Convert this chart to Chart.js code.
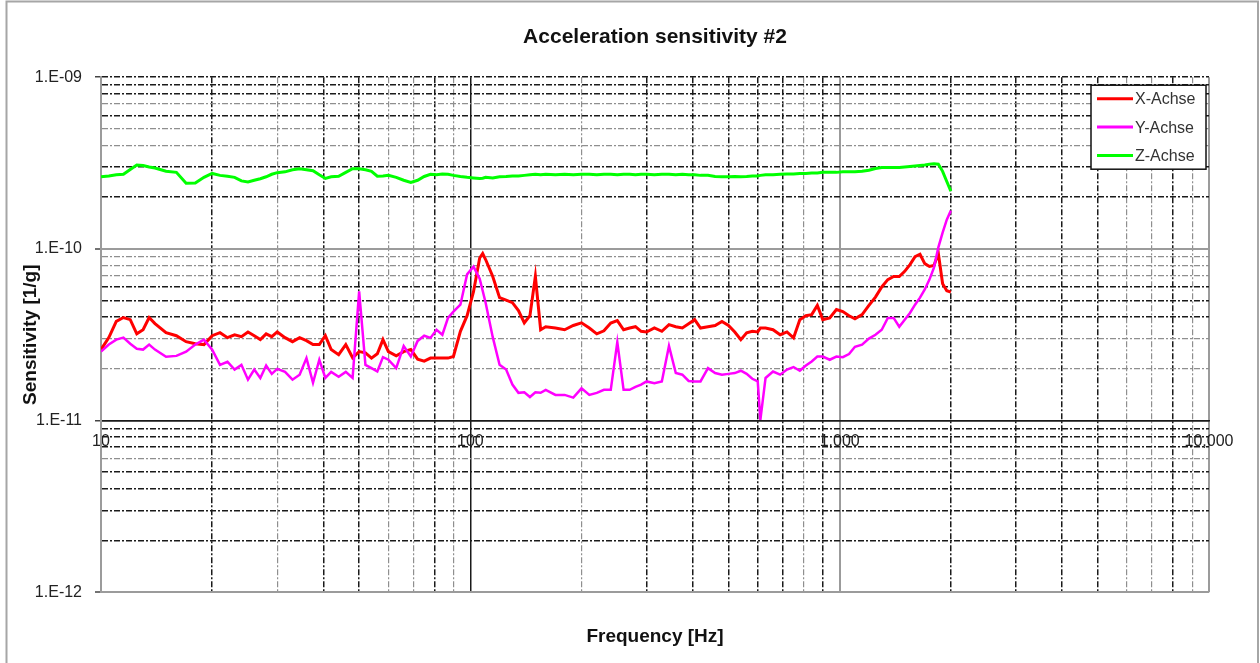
<!DOCTYPE html>
<html>
<head>
<meta charset="utf-8">
<title>Acceleration sensitivity #2</title>
<script src="https://cdn.jsdelivr.net/npm/chart.js@4.4.1/dist/chart.umd.min.js"></script>
<style>
  html, body { margin: 0; padding: 0; background: #fff; }
  #wrap { width: 1260px; height: 663px; position: relative; }
</style>
</head>
<body>
<div id="wrap"><canvas id="sensChart"></canvas></div>
<script>
// frequencies of the measurement points [Hz]
const freqs = [
  10, 10.5, 11, 11.5, 12, 12.5, 13, 13.5, 14, 15,
  16, 17, 18, 19, 20, 21, 22, 23, 24, 25,
  26, 27, 28, 29, 30, 31.5, 33, 34.5, 36, 37.5,
  39, 40.5, 42, 44, 46, 48, 50, 52, 54, 56,
  58, 60, 63, 66, 69, 72, 75, 78, 81, 84,
  87, 90, 94, 98, 102, 106, 108, 110, 115, 120,
  125, 130, 135, 140, 145, 150, 155, 160, 170, 180,
  190, 200, 210, 220, 230, 240, 250, 260, 270, 280,
  290, 300, 315, 330, 345, 360, 375, 390, 405, 420,
  440, 460, 480, 500, 520, 540, 560, 580, 600, 610,
  630, 660, 690, 720, 750, 780, 810, 840, 870, 900,
  940, 980, 1020, 1060, 1100, 1150, 1200, 1250, 1300, 1350,
  1400, 1450, 1500, 1550, 1600, 1650, 1700, 1750, 1800, 1850,
  1900, 1950, 2000
];

// sensitivity [1/g]
const xAchse = [
  2.59e-11, 3.04e-11, 3.78e-11, 3.98e-11, 3.87e-11, 3.20e-11, 3.38e-11, 3.98e-11, 3.67e-11, 3.25e-11,
  3.12e-11, 2.88e-11, 2.80e-11, 2.77e-11, 3.12e-11, 3.25e-11, 3.04e-11, 3.16e-11, 3.08e-11, 3.28e-11,
  3.12e-11, 2.96e-11, 3.20e-11, 3.08e-11, 3.28e-11, 3.04e-11, 2.88e-11, 3.04e-11, 2.92e-11, 2.77e-11,
  2.77e-11, 3.12e-11, 2.59e-11, 2.42e-11, 2.77e-11, 2.32e-11, 2.52e-11, 2.48e-11, 2.31e-11, 2.45e-11,
  2.96e-11, 2.52e-11, 2.38e-11, 2.52e-11, 2.59e-11, 2.28e-11, 2.22e-11, 2.31e-11, 2.31e-11, 2.31e-11,
  2.31e-11, 2.36e-11, 3.31e-11, 4.08e-11, 5.63e-11, 8.85e-11, 9.40e-11, 8.67e-11, 6.90e-11, 5.20e-11,
  5.03e-11, 4.86e-11, 4.37e-11, 3.70e-11, 4.08e-11, 6.92e-11, 3.38e-11, 3.52e-11, 3.46e-11, 3.38e-11,
  3.58e-11, 3.71e-11, 3.46e-11, 3.20e-11, 3.33e-11, 3.70e-11, 3.82e-11, 3.38e-11, 3.46e-11, 3.52e-11,
  3.31e-11, 3.28e-11, 3.46e-11, 3.31e-11, 3.62e-11, 3.52e-11, 3.46e-11, 3.66e-11, 3.87e-11, 3.46e-11,
  3.52e-11, 3.58e-11, 3.78e-11, 3.58e-11, 3.28e-11, 2.96e-11, 3.24e-11, 3.31e-11, 3.28e-11, 3.46e-11,
  3.46e-11, 3.38e-11, 3.16e-11, 3.28e-11, 3.03e-11, 3.87e-11, 4.08e-11, 4.14e-11, 4.68e-11, 3.87e-11,
  3.96e-11, 4.43e-11, 4.31e-11, 4.08e-11, 3.91e-11, 4.14e-11, 4.68e-11, 5.24e-11, 6.00e-11, 6.62e-11,
  6.90e-11, 6.90e-11, 7.40e-11, 8.10e-11, 9.00e-11, 9.30e-11, 8.20e-11, 7.90e-11, 8.00e-11, 9.40e-11,
  6.26e-11, 5.70e-11, 5.60e-11
];

const yAchse = [
  2.52e-11, 2.77e-11, 2.96e-11, 3.04e-11, 2.80e-11, 2.62e-11, 2.59e-11, 2.77e-11, 2.59e-11, 2.35e-11,
  2.38e-11, 2.52e-11, 2.77e-11, 2.96e-11, 2.59e-11, 2.11e-11, 2.20e-11, 1.98e-11, 2.11e-11, 1.73e-11,
  1.98e-11, 1.77e-11, 2.09e-11, 1.87e-11, 2.00e-11, 1.92e-11, 1.73e-11, 1.85e-11, 2.31e-11, 1.66e-11,
  2.26e-11, 1.77e-11, 1.92e-11, 1.80e-11, 1.92e-11, 1.77e-11, 5.66e-11, 2.11e-11, 2.02e-11, 1.93e-11,
  2.34e-11, 2.26e-11, 2.02e-11, 2.72e-11, 2.36e-11, 2.91e-11, 3.12e-11, 3.03e-11, 3.38e-11, 3.16e-11,
  3.96e-11, 4.31e-11, 4.73e-11, 7.10e-11, 7.88e-11, 6.70e-11, 5.70e-11, 4.86e-11, 3.06e-11, 2.11e-11,
  1.98e-11, 1.62e-11, 1.45e-11, 1.46e-11, 1.37e-11, 1.46e-11, 1.45e-11, 1.51e-11, 1.41e-11, 1.41e-11,
  1.36e-11, 1.54e-11, 1.41e-11, 1.45e-11, 1.51e-11, 1.51e-11, 2.86e-11, 1.51e-11, 1.51e-11, 1.57e-11,
  1.62e-11, 1.69e-11, 1.65e-11, 1.69e-11, 2.72e-11, 1.89e-11, 1.85e-11, 1.70e-11, 1.69e-11, 1.69e-11,
  2.02e-11, 1.89e-11, 1.85e-11, 1.87e-11, 1.89e-11, 1.95e-11, 1.87e-11, 1.75e-11, 1.69e-11, 1.01e-11,
  1.77e-11, 1.93e-11, 1.85e-11, 1.98e-11, 2.05e-11, 1.95e-11, 2.09e-11, 2.21e-11, 2.36e-11, 2.36e-11,
  2.26e-11, 2.36e-11, 2.34e-11, 2.44e-11, 2.69e-11, 2.77e-11, 3.00e-11, 3.16e-11, 3.38e-11, 3.96e-11,
  3.96e-11, 3.52e-11, 3.87e-11, 4.23e-11, 4.73e-11, 5.20e-11, 5.80e-11, 6.62e-11, 7.78e-11, 1.02e-10,
  1.245e-10, 1.48e-10, 1.67e-10
];

const zAchse = [
  2.63e-10, 2.66e-10, 2.70e-10, 2.72e-10, 2.90e-10, 3.08e-10, 3.06e-10, 3.00e-10, 2.96e-10, 2.83e-10,
  2.79e-10, 2.41e-10, 2.42e-10, 2.61e-10, 2.75e-10, 2.68e-10, 2.65e-10, 2.61e-10, 2.49e-10, 2.45e-10,
  2.51e-10, 2.56e-10, 2.63e-10, 2.72e-10, 2.78e-10, 2.81e-10, 2.89e-10, 2.93e-10, 2.89e-10, 2.85e-10,
  2.70e-10, 2.57e-10, 2.63e-10, 2.65e-10, 2.79e-10, 2.93e-10, 2.93e-10, 2.89e-10, 2.83e-10, 2.65e-10,
  2.66e-10, 2.68e-10, 2.61e-10, 2.51e-10, 2.44e-10, 2.51e-10, 2.64e-10, 2.72e-10, 2.70e-10, 2.73e-10,
  2.72e-10, 2.68e-10, 2.64e-10, 2.61e-10, 2.59e-10, 2.57e-10, 2.58e-10, 2.61e-10, 2.59e-10, 2.63e-10,
  2.64e-10, 2.66e-10, 2.66e-10, 2.68e-10, 2.70e-10, 2.72e-10, 2.70e-10, 2.72e-10, 2.70e-10, 2.72e-10,
  2.70e-10, 2.72e-10, 2.72e-10, 2.70e-10, 2.72e-10, 2.72e-10, 2.70e-10, 2.72e-10, 2.72e-10, 2.70e-10,
  2.72e-10, 2.72e-10, 2.70e-10, 2.72e-10, 2.72e-10, 2.70e-10, 2.72e-10, 2.70e-10, 2.70e-10, 2.68e-10,
  2.68e-10, 2.64e-10, 2.63e-10, 2.63e-10, 2.64e-10, 2.63e-10, 2.64e-10, 2.66e-10, 2.66e-10, 2.68e-10,
  2.70e-10, 2.70e-10, 2.72e-10, 2.73e-10, 2.73e-10, 2.75e-10, 2.75e-10, 2.77e-10, 2.77e-10, 2.79e-10,
  2.79e-10, 2.79e-10, 2.81e-10, 2.81e-10, 2.81e-10, 2.83e-10, 2.87e-10, 2.94e-10, 2.98e-10, 2.98e-10,
  2.98e-10, 2.98e-10, 3.00e-10, 3.02e-10, 3.04e-10, 3.06e-10, 3.08e-10, 3.11e-10, 3.13e-10, 3.11e-10,
  2.83e-10, 2.47e-10, 2.17e-10
];

// gridlines (1, 2 ... 9 per decade)
const xGridValues = [
  10, 20, 30, 40, 50, 60, 70, 80, 90,
  100, 200, 300, 400, 500, 600, 700, 800, 900,
  1000, 2000, 3000, 4000, 5000, 6000, 7000, 8000, 9000,
  10000
];
const yGridValues = [
  1e-12, 2e-12, 3e-12, 4e-12, 5e-12, 6e-12, 7e-12, 8e-12, 9e-12,
  1e-11, 2e-11, 3e-11, 4e-11, 5e-11, 6e-11, 7e-11, 8e-11, 9e-11,
  1e-10, 2e-10, 3e-10, 4e-10, 5e-10, 6e-10, 7e-10, 8e-10, 9e-10,
  1e-9
];

// the Excel export mixes black and grey dash-dot gridlines, keep that look
const xDarkSolid = [100];
const xGreySolid = [10, 1000, 10000];
const xGreyDashed = [30, 60, 70, 90, 200, 800, 6000, 7000, 9000];
const yDarkSolid = [1e-11];
const yGreySolid = [1e-12, 1e-10];
const yGreyDashed = [6e-12, 2e-11, 3e-11, 7e-11, 8e-11, 9e-11, 4e-10, 5e-10, 7e-10];

const DASH_DOT = [6, 2, 2, 2];
const has = (list, v) => list.some(t => Math.abs(t - v) <= t * 1e-6);
const isDecade = (v) => {
  const e = Math.log10(v);
  return Math.abs(e - Math.round(e)) < 1e-6;
};

function gridStyle(v, darkSolid, greySolid, greyDashed) {
  if (has(darkSolid, v)) return { color: '#1a1a1a', width: 1.5, dash: [] };
  if (has(greySolid, v)) return { color: '#9b9b9b', width: 2, dash: [] };
  if (has(greyDashed, v)) return { color: '#8f8f8f', width: 1.2, dash: DASH_DOT };
  return { color: '#1a1a1a', width: 1.5, dash: DASH_DOT };
}

const xStyle = (ctx) => ctx.tick ? gridStyle(ctx.tick.value, xDarkSolid, xGreySolid, xGreyDashed) : null;
const yStyle = (ctx) => ctx.tick ? gridStyle(ctx.tick.value, yDarkSolid, yGreySolid, yGreyDashed) : null;

function withCommas(v) {
  return String(Math.round(v)).replace(/\B(?=(\d{3})+(?!\d))/g, ',');
}
function expLabel(v) {
  const e = Math.round(Math.log10(v));
  const s = String(Math.abs(e)).padStart(2, '0');
  return '1.E' + (e < 0 ? '-' : '+') + s;
}

const toPoints = (vals) => freqs.map((f, i) => ({ x: f, y: vals[i] }));

// grey frame around the whole chart object
const chartFrame = {
  id: 'chartFrame',
  beforeDraw(chart) {
    const ctx = chart.ctx;
    ctx.save();
    ctx.strokeStyle = '#a6a6a6';
    ctx.lineWidth = 2;
    ctx.strokeRect(6.5, 1.5, 1251.5, 700);
    ctx.restore();
  }
};

// legend box inside the plot area, top right
const boxLegend = {
  id: 'boxLegend',
  afterDraw(chart) {
    const { ctx, chartArea } = chart;
    const w = 115, h = 84;
    const left = chartArea.right - 118;
    const top = chartArea.top + 8;
    ctx.save();
    ctx.fillStyle = '#fff';
    ctx.fillRect(left, top, w, h);
    ctx.strokeStyle = '#111';
    ctx.lineWidth = 1.5;
    ctx.strokeRect(left, top, w, h);
    ctx.font = '16px "Liberation Sans", Arial, sans-serif';
    ctx.textBaseline = 'middle';
    chart.data.datasets.forEach((ds, i) => {
      const y = top + 13.5 + i * 28.4;
      ctx.strokeStyle = ds.borderColor;
      ctx.lineWidth = 3;
      ctx.beginPath();
      ctx.moveTo(left + 6, y);
      ctx.lineTo(left + 42, y);
      ctx.stroke();
      ctx.fillStyle = '#333';
      ctx.fillText(ds.label, left + 44, y + 1);
    });
    ctx.restore();
  }
};

Chart.defaults.font.family = '"Liberation Sans", Arial, sans-serif';

const ctx = document.getElementById('sensChart').getContext('2d');
new Chart(ctx, {
  type: 'line',
  data: {
    datasets: [
      { label: 'X-Achse', data: toPoints(xAchse), borderColor: '#ff0000', borderWidth: 3, order: 3 },
      { label: 'Y-Achse', data: toPoints(yAchse), borderColor: '#ff00ff', borderWidth: 2.5, order: 2 },
      { label: 'Z-Achse', data: toPoints(zAchse), borderColor: '#00ff00', borderWidth: 3, order: 1 }
    ]
  },
  options: {
    responsive: true,
    maintainAspectRatio: false,
    animation: false,
    events: [],
    elements: {
      point: { radius: 0 },
      line: { tension: 0, fill: false }
    },
    layout: { padding: { left: 0, right: 51, top: 0, bottom: 0 } },
    plugins: {
      legend: { display: false },
      tooltip: { enabled: false },
      title: {
        display: true,
        text: 'Acceleration sensitivity #2',
        fullSize: false,
        color: '#111',
        font: { size: 21, weight: 'bold' },
        padding: { top: 25, bottom: 27 }
      },
      subtitle: {
        display: true,
        position: 'bottom',
        text: 'Frequency [Hz]',
        fullSize: false,
        color: '#111',
        font: { size: 19, weight: 'bold' },
        padding: { top: 33, bottom: 15 }
      }
    },
    scales: {
      x: {
        type: 'logarithmic',
        min: 10,
        max: 10000,
        position: { y: 1e-11 },
        afterBuildTicks: (scale) => { scale.ticks = xGridValues.map(v => ({ value: v })); },
        ticks: {
          autoSkip: false,
          maxRotation: 0,
          padding: 11,
          color: '#222',
          font: { size: 16 },
          callback: (v) => isDecade(v) ? withCommas(v) : ''
        },
        grid: {
          drawTicks: false,
          color: (c) => { const s = xStyle(c); return s ? s.color : '#999'; },
          lineWidth: (c) => { const s = xStyle(c); return s ? s.width : 1; }
        },
        border: {
          display: true,
          color: '#1a1a1a',
          width: 1.5,
          dash: (c) => { const s = xStyle(c); return s ? s.dash : []; }
        }
      },
      y: {
        type: 'logarithmic',
        min: 1e-12,
        max: 1e-9,
        afterBuildTicks: (scale) => { scale.ticks = yGridValues.map(v => ({ value: v })); },
        afterFit: (scale) => { scale.width = 101; },
        ticks: {
          autoSkip: false,
          padding: 13,
          color: '#222',
          font: { size: 16 },
          callback: (v) => isDecade(v) ? expLabel(v) : ''
        },
        grid: {
          tickLength: 6,
          tickWidth: 1.5,
          tickColor: (c) => (c.tick && isDecade(c.tick.value)) ? '#444' : 'rgba(0,0,0,0)',
          color: (c) => { const s = yStyle(c); return s ? s.color : '#999'; },
          lineWidth: (c) => { const s = yStyle(c); return s ? s.width : 1; }
        },
        border: {
          display: true,
          color: '#9b9b9b',
          width: 2,
          dash: (c) => { const s = yStyle(c); return s ? s.dash : []; }
        },
        title: {
          display: true,
          text: 'Sensitivity [1/g]',
          color: '#111',
          font: { size: 19, weight: 'bold' },
          padding: { top: 19, bottom: 0 }
        }
      }
    }
  },
  plugins: [chartFrame, boxLegend]
});
</script>
</body>
</html>
